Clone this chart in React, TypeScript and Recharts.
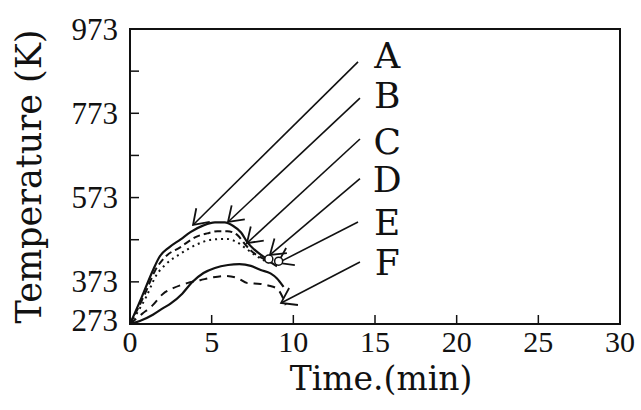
import React from "react";
import {
  ComposedChart,
  Line,
  XAxis,
  YAxis,
  ReferenceLine,
  ReferenceArea,
  ReferenceDot,
} from "recharts";

// curve A: upper solid
const timeA = [0, 0.7, 1.4, 1.8, 2.4, 3.1, 3.7, 4.5, 5.2, 5.8, 6.3, 6.8, 7.2, 7.6, 8.2, 8.6, 9.0];
const tempA = [273, 335, 400, 432, 455, 474, 491, 507, 514, 514, 506, 490, 466, 450, 432, 420, 410];
// curve B: upper dashed
const timeB = [0, 0.92, 1.54, 2.15, 3.07, 4.12, 4.73, 5.35, 5.96, 6.58, 6.94, 7.38, 7.87, 8.3, 8.6];
const tempB = [273, 345, 400, 432, 455, 481, 488, 493, 493, 484, 467, 448, 434, 425, 420];
// curve C: upper dotted
const timeC = [0, 1.0, 1.6, 2.2, 3.1, 4.1, 5.0, 5.9, 6.6, 7.1, 7.6, 8.1, 8.5];
const tempC = [273, 338, 388, 415, 440, 462, 473, 475, 466, 452, 438, 426, 418];
// D: small open markers at the end of the upper curves
const timeD = [8.5, 9.1];
const tempD = [427, 422];
// curve E: lower solid
const timeE = [0, 0.6, 1.4, 2.0, 2.5, 3.2, 3.8, 4.5, 5.2, 6.0, 6.7, 7.4, 8.0, 8.6, 9.0, 9.4];
const tempE = [273, 280, 295, 310, 322, 345, 372, 394, 406, 413, 415, 411, 401, 393, 381, 361];
// curve F: lower dashed
const timeF = [0, 0.74, 1.35, 2.03, 2.64, 3.5, 4.3, 5.1, 5.84, 6.58, 7.19, 7.99, 8.6, 9.03, 9.34, 9.53];
const tempF = [273, 297, 316, 345, 358, 370, 377, 384, 387, 382, 370, 368, 363, 356, 337, 318];

const xTicks = [0, 5, 10, 15, 20, 25, 30];
const yTicks = [273, 373, 473, 573, 673, 773, 873, 973];
const yLabelled = [273, 373, 573, 773, 973];

// arrows from the letters to the curves
const letters = ["A", "B", "C", "D", "E", "F"];
const tailTime = [13.96, 14.08, 14.08, 14.08, 13.96, 14.08];
const tailTemp = [895, 809, 712, 618, 515, 420];
const headTime = [3.86, 6.0, 7.16, 8.57, 9.06, 9.25];
const headTemp = [508, 515, 465, 437, 418, 323];
const letterTime = 15.75;
const letterTemp = [910, 815, 705, 615, 515, 420];

const toPts = (ts: number[], vs: number[]) => ts.map((t, i) => ({ t, T: vs[i] }));

const INK = "#111";
const TICK_FONT = "'Liberation Serif', serif";
const TITLE_FONT = "'DejaVu Serif', serif";

function YTick({ x, y, payload }: any) {
  const v = payload.value;
  const ax = x + 12;
  return (
    <g>
      {v !== 273 && v !== 973 && (
        <line x1={ax} x2={ax + 9} y1={y} y2={y} stroke={INK} strokeWidth={1.5} />
      )}
      {yLabelled.includes(v) && (
        <text x={x} y={v === 273 ? y - 4 : y} textAnchor="end" dominantBaseline="central" fontSize={31} fontFamily={TICK_FONT} fill={INK}>
          {v}
        </text>
      )}
    </g>
  );
}

function XTick({ x, y, payload }: any) {
  const v = payload.value;
  const ay = y - 8;
  return (
    <g>
      {v !== 0 && v !== 30 && (
        <line x1={x} x2={x} y1={ay} y2={ay - 9} stroke={INK} strokeWidth={1.5} />
      )}
      <text x={x} y={y + 20} textAnchor="middle" fontSize={30} fontFamily={TICK_FONT} fill={INK}>
        {v}
      </text>
    </g>
  );
}

function Arrow(props: any) {
  const { x1, y1, x2, y2 } = props;
  const ang = Math.atan2(y1 - y2, x1 - x2);
  const len = 17;
  const spread = 0.6;
  const a = [x2 + len * Math.cos(ang + spread), y2 + len * Math.sin(ang + spread)];
  const b = [x2 + len * Math.cos(ang - spread), y2 + len * Math.sin(ang - spread)];
  return (
    <g>
      <line x1={x1} y1={y1} x2={x2} y2={y2} stroke={INK} strokeWidth={1.6} />
      <polyline points={`${a[0]},${a[1]} ${x2},${y2} ${b[0]},${b[1]}`} fill="none" stroke={INK} strokeWidth={1.8} />
    </g>
  );
}

export default function App() {
  return (
    <div style={{ position: "absolute", left: 0, top: 0, background: "#fff" }}>
      <ComposedChart width={641} height={410} margin={{ top: 29, right: 21, bottom: 0, left: 0 }}>
        <XAxis
          dataKey="t"
          type="number"
          domain={[0, 30]}
          ticks={xTicks}
          tick={<XTick />}
          tickSize={0}
          tickMargin={8}
          height={86}
          axisLine={{ stroke: INK, strokeWidth: 2 }}
          tickLine={false}
          label={{
            value: "Time.(min)",
            position: "insideBottom",
            offset: 20,
            dx: 6,
            style: { fontSize: 33, fontFamily: TITLE_FONT, fill: INK },
          }}
        />
        <YAxis
          type="number"
          domain={[273, 973]}
          ticks={yTicks}
          tick={<YTick />}
          tickSize={0}
          tickMargin={12}
          width={130}
          axisLine={{ stroke: INK, strokeWidth: 2 }}
          tickLine={false}
          label={{
            value: "Temperature (K)",
            angle: -90,
            position: "center",
            dx: -36,
            style: { fontSize: 35, fontFamily: TITLE_FONT, fill: INK, textAnchor: "middle" },
          }}
        />
        <ReferenceArea x1={0} x2={30} y1={273} y2={973} fill="none" fillOpacity={0} stroke={INK} strokeWidth={2} />

        <Line data={toPts(timeA, tempA)} dataKey="T" type="monotone" stroke={INK} strokeWidth={2.2} dot={false} isAnimationActive={false} />
        <Line data={toPts(timeB, tempB)} dataKey="T" type="monotone" stroke={INK} strokeWidth={2} strokeDasharray="7 4" dot={false} isAnimationActive={false} />
        <Line data={toPts(timeC, tempC)} dataKey="T" type="monotone" stroke={INK} strokeWidth={2} strokeDasharray="2 4" dot={false} isAnimationActive={false} />
        <Line
          data={toPts(timeD, tempD)}
          dataKey="T"
          stroke="none"
          dot={{ r: 4, fill: "#fff", stroke: INK, strokeWidth: 1.5 }}
          isAnimationActive={false}
        />
        <Line data={toPts(timeE, tempE)} dataKey="T" type="monotone" stroke={INK} strokeWidth={2.2} dot={false} isAnimationActive={false} />
        <Line data={toPts(timeF, tempF)} dataKey="T" type="monotone" stroke={INK} strokeWidth={2} strokeDasharray="8 6" dot={false} isAnimationActive={false} />

        {letters.map((l, i) => (
          <ReferenceLine
            key={"arrow" + l}
            segment={[
              { x: tailTime[i], y: tailTemp[i] },
              { x: headTime[i], y: headTemp[i] },
            ]}
            shape={Arrow}
          />
        ))}
        {letters.map((l, i) => (
          <ReferenceDot
            key={"letter" + l}
            x={letterTime}
            y={letterTemp[i]}
            r={0}
            shape={(p: any) => (
              <text x={p.cx} y={p.cy} textAnchor="middle" dominantBaseline="central" fontSize={36} fontFamily={TITLE_FONT} fill={INK}>
                {l}
              </text>
            )}
          />
        ))}
      </ComposedChart>
    </div>
  );
}
